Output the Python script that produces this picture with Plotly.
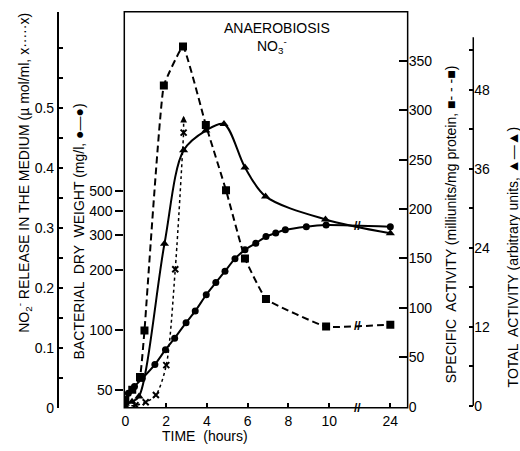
import plotly.graph_objects as go

W, H = 520, 451

# ---------------- data ----------------
time_tickvals = [0, 2, 4, 6, 8, 10, 24]
T24_POS = 13.0          # where the 24 h value sits on the broken time axis
BREAK_T = 11.41         # position of the axis break marks

def tpos(t):
    return T24_POS if t >= 24 else t

# bacterial dry weight (mg/l), log scale, filled circles
bdw_t = [0, 0.15, 0.45, 0.83, 1.45, 1.97, 2.42, 2.98, 3.43, 3.97, 4.44, 4.89,
         5.38, 5.87, 6.4, 6.9, 7.38, 7.85, 8.88, 9.85, 24]
bdw = [44.7, 48, 52, 57, 67, 79.6, 91, 109, 124.6, 150.7, 173.5, 198,
       229, 253.7, 273.7, 296, 308, 320, 332, 338, 332]

# total activity (arbitrary units), triangles
ta_t = [0, 0.33, 0.67, 1.92, 2.86, 3.95, 4.84, 5.87, 6.88, 9.82, 24]
ta = [0.3, 0.6, 1.4, 24.6, 38.8, 41.8, 42.8, 36.2, 31.8, 28.3, 26.2]

# specific activity (milliunits/mg protein), squares
sa_t = [0, 0.34, 0.72, 0.94, 1.89, 2.83, 3.95, 4.94, 5.87, 6.9, 9.85, 24]
sa = [6, 17, 30, 77, 325, 364.5, 285, 219, 150, 109, 81, 83]

# NO2- release in the medium (umol/ml), crosses
no2_t = [0, 0.5, 1.0, 1.5, 2.01, 2.45, 2.86]
no2 = [0.002, 0.004, 0.009, 0.021, 0.071, 0.231, 0.459]
no2_arrow_top = 0.487

bdw_ticks = [50, 100, 200, 300, 400, 500]
no2_ticks = [0, 0.05, 0.1, 0.15, 0.2, 0.25, 0.3, 0.35, 0.4, 0.45, 0.5, 0.55, 0.6]
no2_labels = ["0", "", "0.1", "", "0.2", "", "0.3", "", "0.4", "", "0.5", "", ""]
sa_ticks = [0, 50, 100, 150, 200, 250, 300, 350]
ta_ticks = [0, 6, 12, 18, 24, 30, 36, 42, 48, 54]
ta_labels = ["0", "", "12", "", "24", "", "36", "", "48", ""]

# ---------------- layout geometry ----------------
def px(x):
    return x / W

def py(y):
    return 1 - y / H

XDOM = [px(122), px(407)]
YDOM = [py(415), py(12)]
FONT = "Liberation Sans, Arial, sans-serif"
BLACK = "black"

fig = go.Figure()

fig.add_trace(go.Scatter(
    x=[tpos(t) for t in bdw_t], y=bdw, yaxis="y", mode="lines+markers",
    line=dict(color=BLACK, width=2, shape="spline", smoothing=0.6),
    marker=dict(symbol="circle", size=7, color=BLACK), showlegend=False))

fig.add_trace(go.Scatter(
    x=[tpos(t) for t in ta_t], y=ta, yaxis="y4", mode="lines+markers",
    line=dict(color=BLACK, width=2, shape="spline", smoothing=0.9),
    marker=dict(symbol="triangle-up", size=8, color=BLACK), showlegend=False))

fig.add_trace(go.Scatter(
    x=[tpos(t) for t in sa_t], y=sa, yaxis="y3", mode="lines+markers",
    line=dict(color=BLACK, width=2, dash="7px,4px", shape="spline", smoothing=0.3),
    marker=dict(symbol="square", size=8, color=BLACK), showlegend=False))

fig.add_trace(go.Scatter(
    x=[tpos(t) for t in no2_t], y=no2, yaxis="y2", mode="lines+markers",
    line=dict(color=BLACK, width=1.5, dash="dot", shape="spline", smoothing=0.8),
    marker=dict(symbol="x-thin", size=6, line=dict(color=BLACK, width=2)),
    showlegend=False))

# dotted arrow shaft above last NO2 point
fig.add_trace(go.Scatter(
    x=[no2_t[-1], no2_t[-1]], y=[no2[-1], no2_arrow_top], yaxis="y2", mode="lines",
    line=dict(color=BLACK, width=1.5, dash="dot"), showlegend=False))

axfont = dict(family=FONT, size=14, color=BLACK)

fig.update_layout(
    width=W, height=H, margin=dict(l=0, r=0, t=0, b=0),
    paper_bgcolor="white", plot_bgcolor="white",
    font=axfont,
    xaxis=dict(domain=XDOM, range=[-0.05, 13.85], showgrid=False, zeroline=False,
               showline=False, tickvals=[tpos(t) for t in time_tickvals],
               ticktext=[str(t) for t in time_tickvals], ticks="inside",
               ticklen=5, tickwidth=1.5, tickcolor=BLACK, tickfont=axfont,
               ticklabelstandoff=3),
    yaxis=dict(domain=YDOM, type="log", range=[1.609, 3.604], showgrid=False,
               zeroline=False, showline=False, tickvals=bdw_ticks,
               ticktext=[str(v) for v in bdw_ticks], ticks="outside", ticklen=8,
               tickwidth=1.5, tickcolor=BLACK, tickfont=axfont),
    yaxis2=dict(domain=YDOM, overlaying="y", anchor="free", position=px(55),
                side="left", range=[0, 0.6607], showgrid=False, zeroline=False,
                showline=True, linecolor=BLACK, linewidth=1.5,
                tickvals=no2_ticks, ticktext=no2_labels, ticks="inside",
                ticklen=5, tickwidth=1.5, tickcolor=BLACK, tickfont=axfont),
    yaxis3=dict(domain=YDOM, overlaying="y", anchor="x", side="right",
                range=[-1, 399.6], showgrid=False, zeroline=False, showline=False,
                tickvals=sa_ticks, ticktext=[str(v) for v in sa_ticks],
                ticks="inside", ticklen=9, tickwidth=1.5, tickcolor=BLACK,
                tickfont=axfont),
    yaxis4=dict(domain=YDOM, overlaying="y", anchor="free", position=px(473),
                side="right", range=[-0.3, 59.85], showgrid=False, zeroline=False,
                showline=False, tickvals=ta_ticks, ticktext=ta_labels,
                ticks="inside", ticklen=4, tickwidth=1.5, tickcolor=BLACK,
                tickfont=axfont),
)

# frame of the main panel
fig.add_shape(type="rect", xref="paper", yref="paper", x0=XDOM[0], x1=XDOM[1],
              y0=YDOM[0], y1=YDOM[1], line=dict(color=BLACK, width=1.5))
# total activity axis line (shorter than the panel)
fig.add_shape(type="line", xref="paper", yref="y4", x0=px(473), x1=px(473),
              y0=0, y1=56, line=dict(color=BLACK, width=1.5))

# arrow head for NO2
fig.add_annotation(x=no2_t[-1], y=no2_arrow_top, xref="x", yref="y2", text="",
                   showarrow=True, ax=0, ay=6, arrowhead=2, arrowsize=0.9,
                   arrowwidth=1.5, arrowcolor=BLACK)

# break marks
brk = dict(text="<b>//</b>", showarrow=False, xanchor="center", yanchor="middle",
           font=dict(family=FONT, size=12, color=BLACK), bgcolor="rgba(0,0,0,0)")
fig.add_annotation(x=BREAK_T, y=YDOM[0], xref="x", yref="paper", **brk)
fig.add_annotation(x=BREAK_T, y=(ta[-2] + ta[-1]) / 2, xref="x", yref="y4", **brk)
fig.add_annotation(x=BREAK_T, y=(sa[-2] + sa[-1]) / 2, xref="x", yref="y3", **brk)

# texts
tfont = dict(family=FONT, size=14, color=BLACK)
ctr = dict(xref="paper", yref="paper", showarrow=False, font=tfont,
           xanchor="center", yanchor="middle")
fig.add_annotation(x=px(276), y=py(28), text="ANAEROBIOSIS", **ctr)
fig.add_annotation(x=px(271), y=py(47), text="NO<sub>3</sub><sup>-</sup>", **ctr)
fig.add_annotation(x=px(203), y=py(444), text="TIME  (hours)", **ctr)

fig.add_annotation(x=px(21), y=py(176), textangle=-90,
                   text="NO<sub>2</sub><sup>-</sup> RELEASE IN THE MEDIUM (\u00b5 mol/ml, x\u00b7\u00b7\u00b7\u00b7\u00b7x)",
                   **ctr)
fig.add_annotation(x=px(76), y=py(236), textangle=-90,
                   text="BACTERIAL  DRY  WEIGHT (mg/l, \u25cf\u2014\u25cf)", **ctr)
fig.add_annotation(x=px(451), y=py(228), textangle=-90,
                   text="SPECIFIC  ACTIVITY (milliunits/mg protein, \u25a0- - -\u25a0)",
                   **ctr)
fig.add_annotation(x=px(513), y=py(262), textangle=-90,
                   text="TOTAL  ACTIVITY (arbitrary units, \u25b2\u2014\u25b2)", **ctr)

fig.write_html("out.html", config={"displayModeBar": False},
               post_script="document.body.style.margin='0';")
